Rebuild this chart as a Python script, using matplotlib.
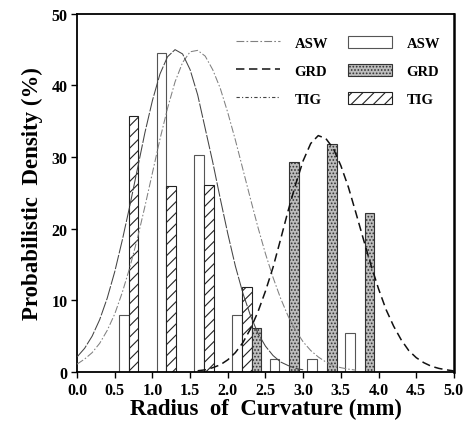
import matplotlib
matplotlib.use("Agg")
import matplotlib.pyplot as plt
from matplotlib.lines import Line2D
from matplotlib.patches import Patch

plt.rcParams['font.family'] = ['Liberation Serif', 'DejaVu Serif']
plt.rcParams['font.weight'] = 'bold'
plt.rcParams['hatch.linewidth'] = 0.8

# ---- histogram data (percent) ----
centers = [0.75, 1.25, 1.75, 2.25, 2.75, 3.25, 3.75]
asw_bars = [8.0, 44.6, 30.3, 8.0, 1.8, 1.8, 5.4]
tig_bars = [35.8, 26.0, 26.1, 11.9, 0.0, 0.0, 0.0]
grd_bars = [0.0, 0.0, 0.0, 6.2, 29.3, 31.8, 22.2]

# ---- fitted density curves ----
tig_x = [0.0, 0.1, 0.2, 0.3, 0.4, 0.5, 0.6, 0.7, 0.8, 0.9, 1.0, 1.1, 1.2, 1.3,
         1.4, 1.5, 1.6, 1.7, 1.8, 1.9, 2.0, 2.1, 2.2, 2.3, 2.4, 2.5, 2.6, 2.7,
         2.8, 2.9, 3.0]
tig_y = [2.1, 3.3, 5.0, 7.3, 10.3, 14.0, 18.4, 23.2, 28.3, 33.4, 37.9, 41.6,
         44.0, 45.0, 44.4, 42.2, 38.7, 34.0, 29.3, 24.2, 19.3, 14.8, 11.0, 7.9,
         5.4, 3.6, 2.3, 1.4, 0.9, 0.5, 0.3]

asw_x = [0.0, 0.1, 0.2, 0.3, 0.4, 0.5, 0.6, 0.7, 0.8, 0.9, 1.0, 1.1, 1.2, 1.3,
         1.4, 1.5, 1.6, 1.7, 1.8, 1.9, 2.0, 2.1, 2.2, 2.3, 2.4, 2.5, 2.6, 2.7,
         2.8, 2.9, 3.0, 3.1, 3.2, 3.3, 3.4, 3.5, 3.6, 3.7]
asw_y = [1.1, 1.8, 2.7, 4.0, 5.8, 8.1, 11.1, 14.6, 18.6, 23.1, 27.8, 32.5,
         36.8, 40.5, 43.2, 44.7, 44.9, 44.1, 42.2, 39.6, 36.2, 32.4, 28.3,
         24.2, 20.2, 16.5, 13.2, 10.3, 7.8, 5.8, 4.2, 3.0, 2.1, 1.4, 0.9, 0.6,
         0.4, 0.25]

grd_x = [1.6, 1.7, 1.8, 1.9, 2.0, 2.1, 2.2, 2.3, 2.4, 2.5, 2.6, 2.7, 2.8, 2.9,
         3.0, 3.1, 3.2, 3.3, 3.4, 3.5, 3.6, 3.7, 3.8, 3.9, 4.0, 4.1, 4.2, 4.3,
         4.4, 4.5, 4.6, 4.7, 4.8, 4.9, 5.0]
grd_y = [0.17, 0.3, 0.6, 1.0, 1.7, 2.7, 4.1, 6.0, 8.4, 11.3, 14.6, 18.5, 22.5,
         26.2, 29.5, 31.9, 33.0, 32.6, 31.2, 28.8, 25.8, 22.2, 18.5, 14.9, 11.6,
         8.7, 6.4, 4.5, 3.0, 2.0, 1.3, 0.8, 0.5, 0.3, 0.15]

xticks = [0.0, 0.5, 1.0, 1.5, 2.0, 2.5, 3.0, 3.5, 4.0, 4.5, 5.0]
yticks = [0, 10, 20, 30, 40, 50]

bar_w = 0.13

fig = plt.figure(figsize=(4.67, 4.31), dpi=100)
ax = fig.add_axes([0.165, 0.1346, 0.807, 0.831])

asw_pos = [c - bar_w for c in centers]
grd_pos = [c + bar_w for c in centers]
ax.bar(asw_pos, asw_bars, width=bar_w, facecolor='white', edgecolor='#555555',
       linewidth=0.8, zorder=2)
ax.bar(centers, tig_bars, width=bar_w, facecolor='white', edgecolor='#222222',
       hatch='///', linewidth=0.8, zorder=2)
ax.bar(grd_pos, grd_bars, width=bar_w, facecolor='#bdbdbd', edgecolor='#333333',
       hatch='.....', linewidth=0.8, zorder=2)

ls_asw = (0, (7, 2, 1.5, 2))
ls_grd = (0, (5.5, 3))
ls_tig = (0, (14, 1.5))
ax.plot(asw_x, asw_y, color='#808080', lw=0.75, ls=ls_asw, zorder=3)
ax.plot(grd_x, grd_y, color='#111111', lw=1.1, ls=ls_grd, zorder=3)
ax.plot(tig_x, tig_y, color='#444444', lw=0.75, ls=ls_tig, zorder=3)

ax.set_xlim(0, 5)
ax.set_ylim(0, 50)
ax.set_xticks(xticks)
ax.set_xticklabels([f"{v:.1f}" for v in xticks])
ax.set_yticks(yticks)
ax.tick_params(direction='out', length=4, width=1.0, labelsize=11.5, pad=3)
for s in ax.spines.values():
    s.set_linewidth(1.3)
ax.spines['right'].set_linewidth(1.8)

ax.set_xlabel('Radius  of  Curvature (mm)', fontsize=16.5, fontweight='bold',
              labelpad=0)
ax.set_ylabel('Probabilistic  Density (%)', fontsize=16.5, fontweight='bold',
              labelpad=6)

handles = [
    Line2D([], [], color='#808080', lw=0.8, ls=ls_asw),
    Line2D([], [], color='#111111', lw=1.1, ls=ls_grd),
    Line2D([], [], color='#444444', lw=0.8, ls=(0, (3, 2, 1, 2))),
    Patch(facecolor='white', edgecolor='#555555', linewidth=0.8),
    Patch(facecolor='#bdbdbd', edgecolor='#333333', hatch='.....', linewidth=0.8),
    Patch(facecolor='white', edgecolor='#222222', hatch='///', linewidth=0.8),
]
labels = ['ASW', 'GRD', 'TIG', 'ASW', 'GRD', 'TIG']
ax.legend(handles, labels, ncol=2, frameon=False, loc='upper right',
          bbox_to_anchor=(0.979, 0.955), handlelength=3.0,
          handleheight=0.9, labelspacing=0.95, columnspacing=1.4,
          handletextpad=1.0, borderaxespad=0.0,
          prop={'weight': 'bold', 'size': 10.5})

fig.savefig('out.png', dpi=100)
